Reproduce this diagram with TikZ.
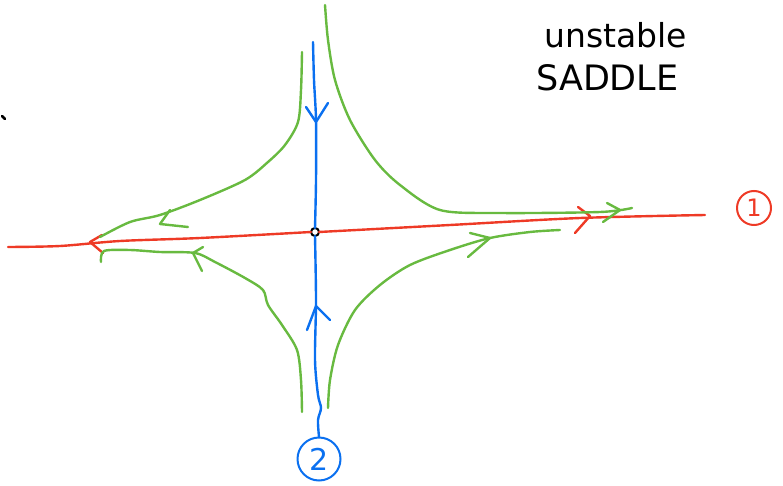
\documentclass[tikz,border=0pt]{standalone}
\usepackage{fontspec}
\setmainfont{DejaVu Sans}
\definecolor{myred}{RGB}{238,58,38}
\definecolor{myblue}{RGB}{10,112,240}
\definecolor{mygreen}{RGB}{104,186,64}
\begin{document}
\begin{tikzpicture}[x=1pt,y=-1pt,
  pen/.style={line width=2.4pt,line cap=round,line join=round},
  redpen/.style={pen,myred},
  bluepen/.style={pen,myblue},
  greenpen/.style={pen,mygreen}]
\useasboundingbox (0,0) rectangle (783,486);
% saddle point
\node[draw=black,line width=2pt,circle,inner sep=0pt,minimum size=8pt] (o) at (315,232) {};
% unstable manifold (red)
\draw[redpen] plot[smooth] coordinates {(8,247) (60,246) (120,241) (200,238) (311,232)};
\draw[redpen] plot[smooth] coordinates {(319,232) (450,225) (580,218) (705,215)};
\draw[redpen] (102,235) -- (90,242) -- (103,253);
\draw[redpen] (578,207) -- (590,216) -- (575,233);
% stable manifold (blue)
\draw[bluepen] plot[smooth] coordinates {(313,42) (314,80) (316,120) (316,180) (315,228)};
\draw[bluepen] plot[smooth] coordinates {(315,236) (316,300) (315,360) (318,395) (321,408) (318,420) (319,437)};
\draw[bluepen] (306,107) -- (316,122) -- (328,103);
\draw[bluepen] (307,330) -- (316,306) -- (330,320);
% labels
\node[draw=myred,line width=2pt,circle,minimum size=34pt,inner sep=0pt,text=myred,font=\fontsize{24}{26}\selectfont] (l1) at (754,208) {1};
\node[draw=myblue,line width=2pt,circle,minimum size=43pt,inner sep=0pt,text=myblue,font=\fontsize{30}{32}\selectfont] (l2) at (319,459) {2};
\node[font=\fontsize{33}{36}\selectfont,anchor=base west,inner sep=0pt] (t1) at (544,48) {unstable};
\node[font=\fontsize{35}{38}\selectfont,anchor=base west,inner sep=0pt] (t2) at (536,91) {SADDLE};
\draw[pen,black,line width=2.6pt] (2,116) -- (5,119);
% green trajectories
\draw[greenpen] plot[smooth] coordinates {(302,52) (301,90) (298,122) (285,145) (268,162) (245,180) (200,200) (160,215) (130,222) (100,237)};
\draw[greenpen] (170,210) -- (160,224) -- (188,227);
\draw[greenpen] plot[smooth] coordinates {(302,412) (301,380) (297,350) (282,325) (268,305) (263,290) (245,278) (215,262) (195,253) (160,252) (130,250) (104,251) (101,262)};
\draw[greenpen] (203,247) -- (193,253) -- (202,271);
\draw[greenpen] plot[smooth] coordinates {(325,5) (328,40) (335,80) (350,120) (375,160) (400,185) (440,210) (500,213) (600,212) (632,208)};
\draw[greenpen] (607,203) -- (620,210) -- (603,222);
\draw[greenpen] plot[smooth] coordinates {(328,408) (330,380) (338,345) (355,310) (380,285) (410,265) (450,250) (490,238) (530,232) (560,230)};
\draw[greenpen] (470,233) -- (490,238) -- (468,257);
\end{tikzpicture}
\end{document}
